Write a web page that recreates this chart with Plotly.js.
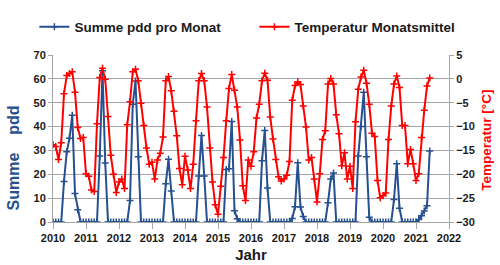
<!DOCTYPE html>
<html>
<head>
<meta charset="utf-8">
<script src="https://cdn.plot.ly/plotly-3.0.1.min.js"></script>
<style>html,body{margin:0;padding:0;background:#fff;}#chart{width:500px;height:265px;}</style>
</head>
<body>
<div id="chart"></div>
<script>
// Monthly series starting January 2010
const startYear = 2010;
const yearTicks = [2010,2011,2012,2013,2014,2015,2016,2017,2018,2019,2020,2021,2022];

// Summe pdd pro Monat
const pdd = [
  0,0,0,0,17.0,29.4,35.1,44.7,11.9,5.1,0,0,
  0,0,0,0,0,27.7,63.4,24.7,0,0,0,0,
  0,0,0,0,9.0,49.4,59.1,27.4,0,0,0,0,
  0,0,0,0,0,16.0,26.3,13.0,0,0,0,0,
  0,0,0,0,0,19.3,36.3,19.3,0,0,0,0,
  0,0,0,22.0,22.3,42.1,4.7,1.4,0,0,0,0,
  0,0,0,0,25.7,38.4,14.2,0,0,0,0,0,
  0,0,0,1.5,6.4,24.8,6.3,2.3,0,0,0,0,
  0,0,0,0,8.1,18.0,20.5,0,0,0,0,0,
  0,0,0,27.7,40.0,54.4,27.3,2.0,0,0,0,0,
  0,0,0,0,9.4,24.4,5.8,0,0,0,0,0,
  0,1.0,2.6,4.6,6.8,29.8
];

// Temperatur Monatsmittel [°C]
const temp = [
  -13.8,-14.2,-16.9,-13.4,-3.1,0.7,1.1,1.5,-2.8,-10.2,-12.5,-12.3,
  -19.9,-20.4,-23.3,-23.6,-9.4,0.3,2.2,-0.1,-7.9,-16.0,-20.0,-23.8,
  -21.6,-21.0,-23.0,-9.6,-4.8,1.5,2.0,-0.4,-5.1,-9.8,-14.5,-17.9,
  -17.5,-21.0,-17.0,-15.6,-12.2,-0.4,0.5,-2.5,-6.8,-11.9,-18.8,-22.2,
  -16.2,-19.1,-23.0,-17.9,-8.8,-0.4,1.1,-0.4,-5.9,-14.5,-21.6,-26.4,
  -28.4,-22.5,-16.5,-8.8,-2.0,0.9,-2.4,-5.9,-12.8,-22.4,-25.5,-17.0,
  -18.3,-15.3,-8.2,-5.3,-0.4,1.2,-0.3,-8.0,-12.6,-16.9,-20.5,-21.4,
  -21.0,-20.2,-17.3,-4.5,-1.4,-0.6,-1.2,-5.7,-10.1,-17.0,-16.5,-21.0,
  -25.8,-19.9,-12.7,-10.9,-1.1,0.1,-1.1,-7.5,-11.5,-18.2,-15.5,-21.0,
  -18.3,-23.0,-9.0,-2.2,0.4,1.8,-0.9,-5.3,-11.4,-12.1,-21.3,-24.9,
  -24.5,-23.9,-12.7,-5.7,-1.1,0.6,-1.8,-9.8,-9.8,-17.8,-14.8,-17.8,
  -21.3,-19.9,-12.3,-6.6,-1.5,0.2
];

const xMonths = pdd.map((_, i) => startYear + i / 12);
const xMonthsT = temp.map((_, i) => startYear + i / 12);

const BLUE = '#26508f';
const RED = '#ff0000';
const GRID = '#a6a6a6';
const FONT = 'Liberation Sans, Arial, sans-serif';

const traces = [
  {
    x: xMonths, y: pdd, name: '<b>Summe pdd pro Monat</b>',
    type: 'scatter', mode: 'lines+markers', yaxis: 'y',
    line: {color: BLUE, width: 2},
    marker: {symbol: 'cross-thin', size: 5, color: BLUE, line: {color: BLUE, width: 1.5}}
  },
  {
    x: xMonthsT, y: temp, name: '<b>Temperatur Monatsmittel</b>',
    type: 'scatter', mode: 'lines+markers', yaxis: 'y2',
    line: {color: RED, width: 2},
    marker: {symbol: 'cross-thin', size: 5, color: RED, line: {color: RED, width: 1.5}}
  }
];

const layout = {
  width: 500, height: 265,
  margin: {l: 53, r: 51, t: 33, b: 43, pad: 0},
  paper_bgcolor: '#fff', plot_bgcolor: '#fff',
  font: {family: FONT, color: '#1a1a1a'},
  showlegend: true,
  legend: {
    orientation: 'h',
    x: -0.047, xanchor: 'left', y: 1.075, yanchor: 'bottom',
    font: {size: 13.5, family: FONT, color: '#1a1a1a'},
    entrywidth: 175, entrywidthmode: 'pixels',
    bgcolor: 'rgba(0,0,0,0)', borderwidth: 0
  },
  xaxis: {
    range: [2010, 2022], tickvals: yearTicks, ticktext: yearTicks.map(y => '<b>' + y + '</b>'),
    showgrid: false, zeroline: false, showline: true, linecolor: GRID, linewidth: 1,
    ticks: 'outside', ticklen: 6, tickcolor: GRID,
    tickfont: {size: 11, family: FONT, color: '#1a1a1a'},
    title: {text: '<b>Jahr</b>', font: {size: 15, family: FONT, color: '#1a1a1a'}, standoff: 6}
  },
  yaxis: {
    range: [0, 70], dtick: 10, showgrid: true, gridcolor: GRID, gridwidth: 1,
    zeroline: false, showline: true, linecolor: GRID, linewidth: 1,
    ticks: 'outside', ticklen: 4, tickcolor: GRID,
    tickfont: {size: 11, family: FONT, color: '#1a1a1a'},
    tickprefix: '<b>', ticksuffix: '</b>'
  },
  yaxis2: {
    range: [-30, 5], dtick: 5, overlaying: 'y', side: 'right',
    showgrid: false, zeroline: false, showline: true, linecolor: GRID, linewidth: 1,
    ticks: 'outside', ticklen: 4, tickcolor: GRID,
    tickfont: {size: 11, family: FONT, color: '#1a1a1a'},
    tickprefix: '<b>', ticksuffix: '</b>'
  },
  annotations: [
    {
      text: '<b>Summe\u00a0\u00a0\u00a0\u00a0pdd</b>', textangle: -90,
      xref: 'paper', yref: 'paper', x: -0.101, y: 0.381, xanchor: 'center', yanchor: 'middle',
      showarrow: false, font: {size: 16, family: FONT, color: BLUE}
    },
    {
      text: '<b>Temperatur [°C]</b>', textangle: -90,
      xref: 'paper', yref: 'paper', x: 1.096, y: 0.487, xanchor: 'center', yanchor: 'middle',
      showarrow: false, font: {size: 13.5, family: FONT, color: RED}
    }
  ]
};

Plotly.newPlot('chart', traces, layout, {displayModeBar: false, staticPlot: true});
</script>
</body>
</html>
